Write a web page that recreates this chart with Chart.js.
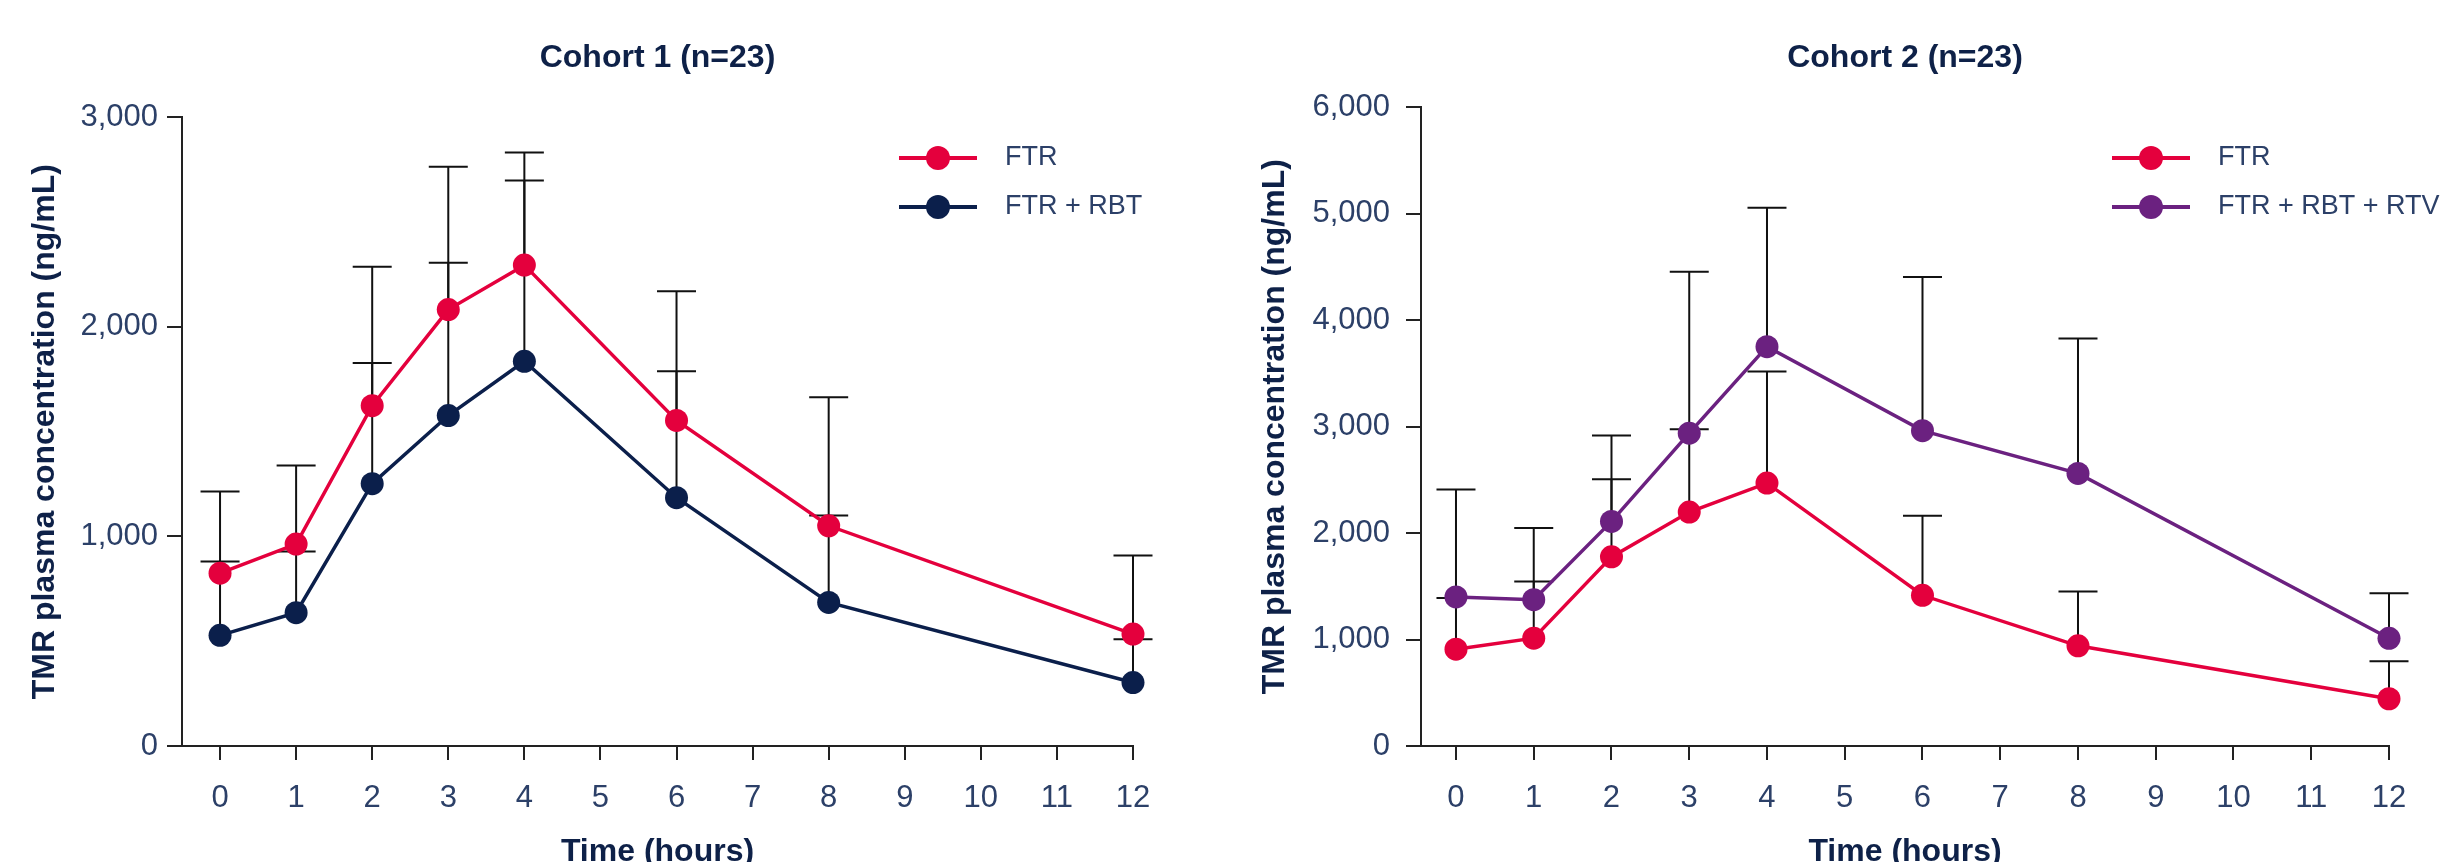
<!DOCTYPE html>
<html>
<head>
<meta charset="utf-8">
<script src="https://cdn.jsdelivr.net/npm/chart.js@4.4.1/dist/chart.umd.min.js"></script>
<style>
html, body { margin: 0; padding: 0; background: #fff; overflow: hidden; width: 2440px; height: 862px; }
.panel { position: absolute; top: 0; width: 1220px; height: 900px; }
</style>
</head>
<body>
<div class="panel" style="left:0"><canvas id="cohort1" width="1220" height="900"></canvas></div>
<div class="panel" style="left:1220px"><canvas id="cohort2" width="1220" height="900"></canvas></div>
<script>
// time points (hours)
var hours = [0, 1, 2, 3, 4, 6, 8, 12];

// Cohort 1 — mean and top of SD bar (ng/mL)
var c1Ftr = [825, 964, 1624, 2083, 2295, 1554, 1051, 534];
var c1FtrUpper = [1215, 1339, 2287, 2765, 2832, 2170, 1664, 909];
var c1FtrRbt = [528, 636, 1252, 1577, 1836, 1185, 685, 303];
var c1FtrRbtUpper = [881, 928, 1828, 2306, 2699, 1789, 1100, 510];

// Cohort 2
var c2Ftr = [910, 1013, 1777, 2198, 2470, 1416, 941, 444];
var c2FtrUpper = [1390, 1546, 2506, 2976, 3518, 2164, 1452, 797];
var c2FtrRbtRtv = [1401, 1375, 2110, 2939, 3752, 2963, 2561, 1012];
var c2FtrRbtRtvUpper = [2410, 2048, 2918, 4457, 5057, 4407, 3829, 1434];

var RED = '#e4003d';
var NAVY = '#0b1f4b';
var PURPLE = '#6b2180';
var TEXT = '#2c4068';
var DARK = '#0e2148';
var AXIS = '#222222';

Chart.defaults.font.family = '"Liberation Sans", Arial, sans-serif';

function pts(ys) {
  return hours.map(function (h, i) { return {x: h, y: ys[i]}; });
}

function series(label, color, ys, upper) {
  return {
    label: label,
    data: pts(ys),
    upper: upper,
    borderColor: color,
    backgroundColor: color,
    borderWidth: 3.5,
    pointRadius: 11.5,
    pointBorderWidth: 0,
    pointBackgroundColor: color,
    tension: 0,
    clip: false
  };
}

// upper SD bars, drawn under the lines
var errorBars = {
  id: 'errorBars',
  beforeDatasetsDraw: function (chart) {
    var ctx = chart.ctx, xs = chart.scales.x, ys = chart.scales.y;
    ctx.save();
    ctx.strokeStyle = '#111';
    ctx.lineWidth = 2;
    chart.data.datasets.forEach(function (ds) {
      ds.upper.forEach(function (u, i) {
        var px = xs.getPixelForValue(ds.data[i].x);
        var top = ys.getPixelForValue(u);
        var base = ys.getPixelForValue(ds.data[i].y);
        ctx.beginPath();
        ctx.moveTo(px, base);
        ctx.lineTo(px, top);
        ctx.moveTo(px - 19.5, top);
        ctx.lineTo(px + 19.5, top);
        ctx.stroke();
      });
    });
    ctx.restore();
  }
};

// line + dot legend in the upper right
var lineLegend = {
  id: 'lineLegend',
  afterDraw: function (chart, args, opts) {
    var ctx = chart.ctx;
    ctx.save();
    chart.data.datasets.forEach(function (ds, i) {
      var y = opts.y + i * opts.gap;
      ctx.strokeStyle = ds.borderColor;
      ctx.lineWidth = 4;
      ctx.beginPath();
      ctx.moveTo(opts.x, y);
      ctx.lineTo(opts.x + 78, y);
      ctx.stroke();
      ctx.fillStyle = ds.borderColor;
      ctx.beginPath();
      ctx.arc(opts.x + 39, y, 12, 0, Math.PI * 2);
      ctx.fill();
      ctx.fillStyle = TEXT;
      ctx.font = '27px "Liberation Sans", Arial, sans-serif';
      ctx.textBaseline = 'middle';
      ctx.fillText(ds.label, opts.x + 106, y);
    });
    ctx.restore();
  }
};

function makeChart(id, title, datasets, cfg) {
  return new Chart(document.getElementById(id), {
    type: 'line',
    data: {datasets: datasets},
    plugins: [errorBars, lineLegend],
    options: {
      responsive: false,
      animation: false,
      devicePixelRatio: 1,
      layout: {padding: {left: 0, right: cfg.padRight, top: 0, bottom: 0}},
      plugins: {
        legend: {display: false},
        tooltip: {enabled: false},
        title: {
          display: true,
          text: title,
          fullSize: false,
          color: DARK,
          font: {size: 32, weight: 'bold'},
          padding: {top: 39, bottom: cfg.titleBottom}
        },
        lineLegend: {x: cfg.legendX, y: 158, gap: 49}
      },
      scales: {
        x: {
          type: 'linear',
          min: cfg.xMin,
          max: 12,
          afterFit: function (s) { s.height = 154; },
          ticks: {stepSize: 1, includeBounds: false, color: TEXT, font: {size: 31}, padding: 20},
          grid: {display: true, drawOnChartArea: false, drawTicks: true, tickLength: 14, color: AXIS, lineWidth: 2},
          border: {display: true, color: AXIS, width: 2},
          title: {display: true, text: 'Time (hours)', color: DARK, font: {size: 32, weight: 'bold'}, padding: {top: 0, bottom: 29}}
        },
        y: {
          min: 0,
          max: cfg.yMax,
          afterFit: function (s) { s.width = cfg.axisWidth; },
          ticks: {
            stepSize: 1000,
            color: TEXT,
            font: {size: 31},
            padding: cfg.tickPad,
            callback: function (v) { return v.toLocaleString('en-US'); }
          },
          grid: {display: true, drawOnChartArea: false, drawTicks: true, tickLength: 15, color: AXIS, lineWidth: 2},
          border: {display: true, color: AXIS, width: 2},
          title: {display: true, text: 'TMR plasma concentration (ng/mL)', color: DARK, font: {size: 32, weight: 'bold'}, padding: {top: cfg.yTitlePad, bottom: 0}}
        }
      }
    }
  });
}

makeChart('cohort1', 'Cohort 1 (n=23)', [
  series('FTR', RED, c1Ftr, c1FtrUpper),
  series('FTR + RBT', NAVY, c1FtrRbt, c1FtrRbtUpper)
], {padRight: 87, titleBottom: 40, legendX: 899, xMin: -0.5, yMax: 3000, axisWidth: 182, tickPad: 9, yTitlePad: 26});

makeChart('cohort2', 'Cohort 2 (n=23)', [
  series('FTR', RED, c2Ftr, c2FtrUpper),
  series('FTR + RBT + RTV', PURPLE, c2FtrRbtRtv, c2FtrRbtRtvUpper)
], {padRight: 51, titleBottom: 30, legendX: 892, xMin: -0.45, yMax: 6000, axisWidth: 201, tickPad: 16, yTitlePad: 36});
</script>
</body>
</html>
